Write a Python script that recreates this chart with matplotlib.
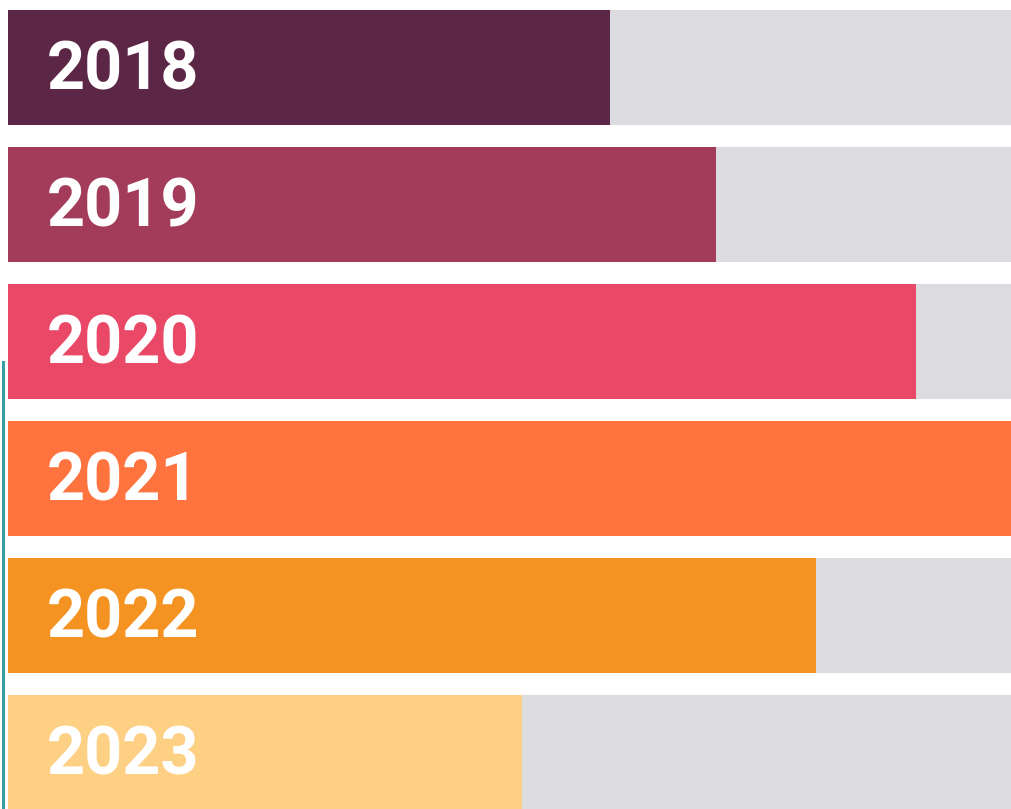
import matplotlib
matplotlib.use("Agg")
from matplotlib import pyplot as plt
from matplotlib.lines import Line2D

# data (share of the full bar, in %)
years = ["2018", "2019", "2020", "2021", "2022", "2023"]
values = [60, 70.5, 90.4, 100, 80.5, 51.2]
colors = ["#5C2646", "#A33C5A", "#EA4867", "#FF733E", "#F59322", "#FDD083"]
track_color = "#DCDCE0"

fig = plt.figure(figsize=(10.12, 8.09), dpi=100)
fig.patch.set_facecolor("white")

# axes spans from x=8px to the right edge, full height
ax = fig.add_axes([8 / 1012, 0, 1 - 8 / 1012, 1])
ax.set_xlim(0, 100)
ax.set_ylim(5.412, -0.493)
ax.axis("off")

ypos = list(range(len(years)))
bar_h = 0.84

# gray tracks behind the bars
ax.barh(ypos, [100] * len(years), height=bar_h, color=track_color, linewidth=0)
ax.barh(ypos, values, height=bar_h, color=colors, linewidth=0)

# labels sit on a baseline a little below the bar centre
for y, label in zip(ypos, years):
    ax.text(3.9, y + 0.163, label, color="white", fontsize=48, fontweight="bold",
            family=["Roboto", "DejaVu Sans"], va="baseline", ha="left")

# thin teal edge on the left (part of the original crop)
fig.add_artist(Line2D([3 / 1012, 3 / 1012], [0, 1 - 362 / 809],
                      color="#3A9EA5", linewidth=2.2))

fig.savefig("out.png", dpi=100, facecolor="white")
